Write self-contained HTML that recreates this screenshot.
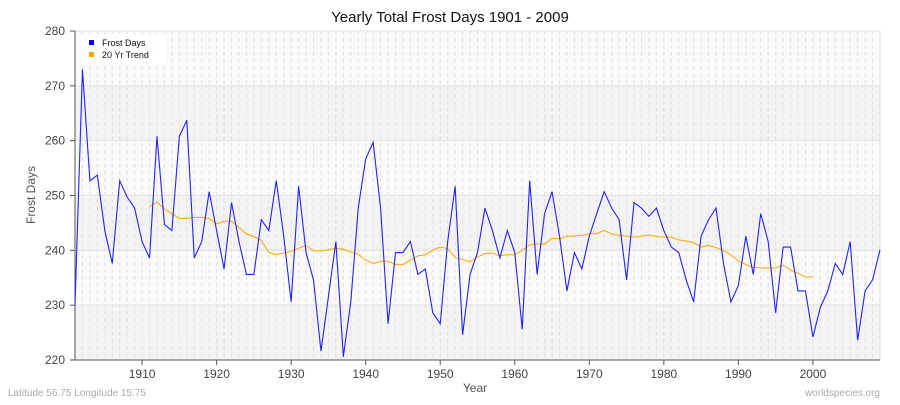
<!DOCTYPE html>
<html><head><meta charset="utf-8"><style>
body{margin:0;background:#fff;}
svg text{font-family:"Liberation Sans","DejaVu Sans",sans-serif;}
</style></head><body>
<svg id="s" width="900" height="400" xmlns="http://www.w3.org/2000/svg"></svg>
<script>
const d=[230,273,252.7,253.7,243.6,237.6,252.7,249.7,247.7,241.6,238.6,260.8,244.7,243.6,260.8,263.7,238.6,241.6,250.7,243.6,236.6,248.7,241.6,235.6,235.6,245.6,243.6,252.7,242.6,230.6,251.7,239.6,234.6,221.6,231.6,241.6,220.6,230.6,247.7,256.7,259.7,247.7,226.6,239.6,239.6,241.6,235.6,236.6,228.6,226.6,241.6,251.7,224.6,235.6,239.6,247.7,243.6,238.6,243.6,239.6,225.6,252.7,235.6,246.7,250.7,242.6,232.6,239.6,236.6,242.6,246.7,250.7,247.7,245.6,234.6,248.7,247.7,246.2,247.7,243.6,240.6,239.6,234.6,230.6,242.6,245.6,247.7,237.6,230.6,233.6,242.6,235.6,246.7,241.6,228.6,240.6,240.6,232.6,232.6,224.2,229.6,232.6,237.6,235.6,241.6,223.6,232.6,234.6,240.1];
const t=[248,248.8,247.5,246.7,245.8,245.8,246,246,245.8,244.8,245.3,245.3,244.2,243,242.5,241.8,239.6,239.2,239.5,239.8,240.4,240.9,239.9,239.9,240.1,240.4,240.2,239.7,239.3,238.2,237.6,238,238,237.4,237.4,238.2,239,239.2,240,240.6,240.3,238.7,238.3,237.9,238.8,239.4,239.5,239,239.2,239.2,240,241,241.2,241.1,242.2,242.1,242.6,242.6,242.7,243,243.1,243.6,243,242.7,242.6,242.4,242.6,242.8,242.5,242.4,242.4,241.9,241.7,241.4,240.6,240.9,240.5,240,239.2,238.1,237.4,236.9,236.8,236.8,236.8,237.3,236.4,235.8,235.1,235.2];
const X=y=>75+(y-1901)*805/108, Y=v=>31+(280-v)*329/60;
let h='';
h+='<rect x="75" y="31" width="805" height="329" fill="#fafafa"/>';
for(let v=220;v<280;v+=20)h+=`<rect x="75" y="${Y(v+10)}" width="805" height="${Y(v)-Y(v+10)}" fill="#f3f3f3"/>`;
for(let y=1901;y<=2009;y++)h+=`<line x1="${X(y)}" y1="31" x2="${X(y)}" y2="360" stroke="#e0e0e0" stroke-dasharray="4,3" stroke-width="1"/>`;
for(let v=230;v<=280;v+=10)h+=`<line x1="75" y1="${Y(v)}" x2="880" y2="${Y(v)}" stroke="#e2e2e2"/>`;
h+='<line x1="880" y1="31" x2="880" y2="360" stroke="#e2e2e2"/>';
h+='<polyline fill="none" stroke="#555" points="75,31 75,360 880,360"/>';
for(let v=220;v<=280;v+=10){h+=`<line x1="70" y1="${Y(v)}" x2="75" y2="${Y(v)}" stroke="#555"/><text x="65" y="${Y(v)+4}" text-anchor="end" font-size="12" fill="#444">${v}</text>`;}
for(let y=1910;y<=2000;y+=10){h+=`<line x1="${X(y)}" y1="360" x2="${X(y)}" y2="365" stroke="#555"/><text x="${X(y)}" y="378" text-anchor="middle" font-size="12" fill="#444">${y}</text>`;}
h+=`<polyline fill="none" stroke="orange" stroke-width="1" points="${t.map((v,i)=>X(1911+i)+','+Y(v)).join(' ')}"/>`;
h+=`<polyline fill="none" stroke="#2222ff" stroke-width="1.1" points="${d.map((v,i)=>X(1901+i)+','+Y(v)).join(' ')}"/>`;
h+='<text x="450" y="22" text-anchor="middle" font-size="15" fill="#111">Yearly Total Frost Days 1901 - 2009</text>';
h+='<text x="475" y="392" text-anchor="middle" font-size="12" fill="#555">Year</text>';
h+='<text x="35" y="195" text-anchor="middle" font-size="12" fill="#555" transform="rotate(-90 35 195)">Frost Days</text>';
h+='<text x="8" y="396" font-size="10" fill="#aaa">Latitude 56.75 Longitude 15.75</text>';
h+='<text x="880" y="396" text-anchor="end" font-size="10" fill="#aaa">worldspecies.org</text>';
h+='<rect x="81" y="34" width="85" height="30" rx="3" fill="#fff" opacity="0.95"/>';
h+='<rect x="89" y="40" width="5" height="5" fill="#0000ff"/><text x="102" y="46" font-size="9" fill="#111">Frost Days</text>';
h+='<rect x="89" y="52" width="5" height="5" fill="orange"/><text x="102" y="58" font-size="9" fill="#111">20 Yr Trend</text>';
document.getElementById('s').innerHTML=h;
</script>
</body></html>
